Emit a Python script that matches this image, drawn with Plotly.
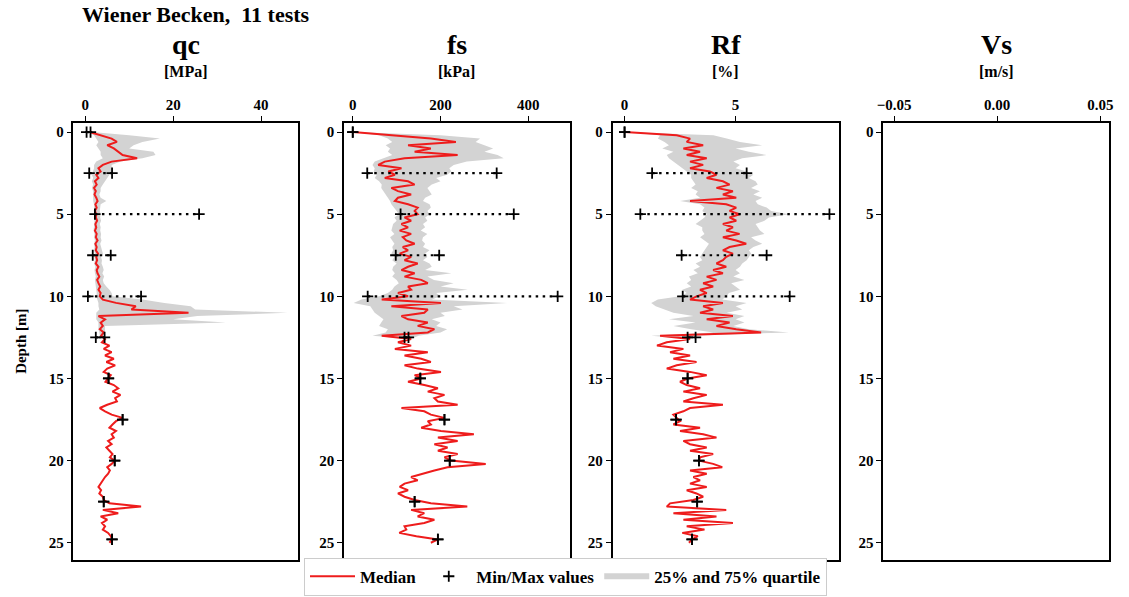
import numpy as np
import plotly.graph_objects as go

# ---------------- data ----------------
depth = np.round(np.arange(0, 25.001, 0.2), 1)          # 0 .. 25 m, 0.2 m step
depth_q = depth[:64]                                     # 0 .. 12.6 m, where quartiles exist

qc_median = [
    1.0, 3.5, 6.0, 7.2, 5.0, 6.5, 7.5, 8.5, 11.8, 6.0,
    4.0, 3.0, 3.5, 2.5, 3.0, 2.2, 2.6, 2.0, 2.4, 2.1,
    2.5, 2.8, 2.3, 2.6, 2.2, 2.5, 2.4, 2.7, 2.3, 2.5,
    2.2, 2.6, 2.4, 2.8, 2.3, 2.6, 2.4, 2.9, 2.5, 2.7,
    2.4, 3.0, 2.6, 2.8, 3.2, 2.7, 3.0, 3.4, 3.0, 3.5,
    3.3, 4.0, 7.0, 11.5, 10.5, 23.5, 3.0, 4.5, 3.5, 4.0,
    3.3, 4.2, 3.6, 4.5, 3.8, 5.5, 4.2, 6.0, 4.5, 6.5,
    4.8, 6.8, 5.0, 4.2, 5.8, 5.3, 4.6, 6.5, 7.5, 6.2,
    8.0, 6.8, 7.2, 5.0, 3.3, 4.5, 6.0, 8.5, 7.0, 6.2,
    5.5, 7.0, 6.0, 6.5, 5.2, 6.0, 4.8, 5.5, 6.2, 5.6,
    6.7, 6.0, 5.0, 5.6, 5.2, 4.5, 4.0, 3.4, 3.0, 3.6,
    3.2, 4.0, 4.2, 5.5, 12.7, 4.0, 7.5, 3.5, 5.0, 3.8,
    4.5, 4.0, 5.2, 5.8, 6.1, 5.5,
]
qc_q25 = [
    0.5, 2.0, 2.5, 3.0, 2.5, 3.0, 3.5, 3.5, 4.0, 2.5,
    2.0, 2.0, 1.8, 1.5, 1.8, 1.5, 1.8, 1.5, 1.8, 1.8,
    1.8, 1.8, 2.0, 2.0, 1.9, 2.0, 2.0, 2.1, 2.0, 2.0,
    1.9, 2.1, 2.0, 2.2, 2.0, 2.1, 2.0, 2.2, 2.1, 2.2,
    2.0, 2.3, 2.1, 2.2, 2.4, 2.2, 2.3, 2.4, 2.5, 2.6,
    2.5, 2.8, 3.0, 3.0, 3.2, 2.5, 2.5, 2.5, 3.0, 3.0,
    3.0, 3.2, 3.3, 4.5,
]
qc_q75 = [
    1.5, 10.0, 17.0, 13.0, 11.0, 10.0, 15.5, 16.0, 13.0, 8.0,
    6.0, 6.0, 6.3, 5.5, 5.0, 4.5, 4.0, 3.5, 3.5, 3.2,
    3.5, 4.8, 3.5, 3.4, 3.3, 3.5, 3.4, 3.6, 3.3, 3.5,
    3.4, 3.6, 3.5, 3.7, 3.4, 3.6, 3.8, 4.0, 3.6, 3.8,
    3.7, 4.0, 4.2, 3.9, 4.3, 4.0, 4.2, 4.8, 5.5, 6.0,
    6.2, 13.0, 18.0, 24.0, 25.0, 46.0, 25.5, 20.0, 32.0, 4.5,
    4.5, 4.5, 4.0, 4.5,
]

fs_median = [
    0, 88, 178, 235, 126, 178, 141, 239, 118, 73,
    58, 111, 81, 96, 73, 126, 141, 88, 103, 133,
    103, 96, 126, 148, 141, 148, 118, 133, 111, 126,
    107, 133, 114, 122, 141, 114, 126, 107, 133, 118,
    148, 126, 111, 141, 118, 156, 171, 126, 133, 103,
    126, 66, 201, 88, 171, 163, 111, 126, 171, 148,
    186, 171, 66, 133, 103, 133, 96, 171, 118, 156,
    178, 118, 148, 201, 141, 156, 126, 163, 194, 171,
    209, 186, 194, 239, 111, 163, 178, 209, 171, 178,
    156, 201, 276, 194, 239, 186, 216, 194, 239, 209,
    224, 303, 216, 186, 156, 133, 148, 118, 107, 126,
    103, 118, 141, 178, 261, 133, 163, 148, 186, 163,
    118, 122, 106, 145, 194, 178,
]
fs_q25 = [
    0, 60, 80, 90, 75, 85, 80, 90, 70, 50,
    45, 50, 48, 55, 50, 60, 66, 65, 70, 75,
    80, 85, 88, 95, 100, 105, 95, 100, 92, 90,
    88, 95, 85, 90, 95, 90, 92, 88, 95, 90,
    100, 92, 90, 96, 90, 100, 105, 95, 90, 80,
    60, 20, 2, 40, 45, 50, 60, 70, 65, 60,
    80, 75, 45, 133,
]
fs_q75 = [
    0, 200, 290, 280, 300, 320, 300, 330, 344, 260,
    230, 220, 225, 215, 190, 200, 180, 170, 175, 180,
    165, 160, 175, 178, 170, 175, 165, 170, 160, 165,
    155, 170, 160, 158, 165, 160, 175, 165, 170, 160,
    175, 180, 165, 225, 170, 185, 230, 200, 262, 190,
    200, 180, 352, 230, 250, 200, 210, 180, 200, 190,
    215, 200, 150, 133,
]

rf_median = [
    0.0, 2.35, 2.95, 2.8, 3.54, 2.65, 3.4, 2.8, 3.7, 2.95,
    3.54, 2.95, 3.84, 4.14, 3.7, 4.43, 4.73, 4.14, 4.88, 4.43,
    5.03, 2.95, 4.58, 5.03, 4.73, 5.18, 4.73, 5.03, 4.43, 4.88,
    4.58, 5.18, 4.43, 5.03, 5.48, 4.73, 4.43, 4.88, 4.58, 4.43,
    4.14, 4.58, 3.99, 4.43, 3.7, 4.14, 3.54, 3.99, 3.4, 3.7,
    3.24, 2.95, 4.43, 3.54, 3.99, 3.4, 4.88, 3.7, 4.73, 4.14,
    5.03, 6.15, 1.6, 2.95, 1.9, 1.46, 2.65, 2.05, 2.95, 2.2,
    3.24, 2.35, 1.9, 2.95, 3.7, 2.84, 2.5, 2.8, 3.4, 2.65,
    3.7, 3.1, 2.65, 4.43, 2.95, 2.65, 2.2, 2.35, 2.5, 2.2,
    3.4, 2.5, 3.54, 4.14, 2.65, 2.95, 3.7, 2.95, 3.99, 3.4,
    3.35, 3.99, 4.4, 2.95, 3.7, 3.1, 3.4, 2.95, 3.7, 2.8,
    3.24, 3.54, 3.1, 2.05, 1.9, 4.58, 2.2, 4.14, 2.65, 4.88,
    2.8, 3.6, 2.6, 3.3, 3.04, 2.9,
]
rf_q25 = [
    0.0, 1.6, 1.5, 1.8, 2.0, 1.7, 2.2, 1.9, 2.0, 2.2,
    2.4, 2.6, 2.8, 3.0, 3.0, 3.1, 3.2, 3.0, 3.3, 3.2,
    3.4, 2.5, 3.4, 3.6, 3.5, 3.7, 3.6, 3.4, 3.2, 3.5,
    3.5, 3.6, 3.4, 3.6, 3.8, 3.7, 3.6, 3.5, 3.4, 3.5,
    3.2, 3.4, 3.1, 3.3, 2.9, 3.0, 2.8, 3.0, 2.6, 2.8,
    2.5, 1.5, 1.2, 1.4, 1.8, 2.2, 3.1, 2.0, 3.2, 2.2,
    3.0, 4.0, 1.2, 2.95,
]
rf_q75 = [
    0.0, 4.0, 4.6, 5.2, 6.2, 5.0, 5.6, 6.4, 5.3, 4.9,
    5.2, 5.0, 5.5, 5.8, 5.6, 5.9, 6.0, 5.7, 6.1, 5.8,
    6.2, 5.9, 6.0, 6.4, 6.6, 7.4, 6.5, 6.3, 5.9, 6.0,
    6.1, 6.3, 5.7, 5.9, 6.2, 5.8, 5.6, 5.7, 5.6, 5.5,
    5.3, 5.2, 5.0, 5.2, 4.9, 5.4, 4.8, 5.0, 5.2, 4.7,
    4.6, 4.4, 5.5, 5.0, 5.3, 4.6, 5.4, 5.0, 5.4, 4.9,
    5.6, 7.4, 3.0, 2.95,
]

# min / max of all tests at selected depths
mm_depth = [0.0, 2.5, 5.0, 7.5, 10.0, 12.5, 15.0, 17.5, 20.0, 22.5, 24.8]
qc_min = [0.3, 0.9, 2.2, 1.7, 0.6, 2.4, 5.3, 8.5, 6.7, 4.2, 6.1]
qc_max = [1.2, 6.1, 25.9, 5.8, 12.7, 4.4, 5.3, 8.5, 6.7, 4.2, 6.1]
fs_min = [0, 33, 109, 98, 34, 118, 154, 209, 221, 141, 194]
fs_max = [0, 328, 367, 197, 467, 127, 154, 209, 221, 141, 194]
rf_min = [0.0, 1.24, 0.71, 2.57, 2.62, 2.84, 2.84, 2.32, 3.35, 3.27, 3.04]
rf_max = [0.0, 5.5, 9.23, 6.4, 7.44, 3.2, 2.84, 2.32, 3.35, 3.27, 3.04]

panel_titles = ["qc", "fs", "Rf", "Vs"]
panel_units = ["[MPa]", "[kPa]", "[%]", "[m/s]"]
x_ranges = [[-2.7, 48.5], [-20, 495], [-0.54, 9.64], [-0.0553, 0.0543]]
x_ticks = [[0, 20, 40], [0, 200, 400], [0, 5], [-0.05, 0.0, 0.05]]
x_ticktext = [["0", "20", "40"], ["0", "200", "400"], ["0", "5"], ["\u22120.05", "0.00", "0.05"]]
depth_ticks = [0, 5, 10, 15, 20, 25]

# ---------------- styling ----------------
FONT = "Liberation Serif"
RED = "#ee1c1c"
GREY = "#d3d3d3"
W, H = 1129, 597
x_domains = [[68 / W, 295 / W], [341 / W, 569 / W], [612 / W, 840 / W], [885 / W, 1113 / W]]
y_domain = [1 - 560 / H, 1 - 123 / H]

fig = go.Figure()

profiles = [
    (qc_median, qc_q25, qc_q75, qc_min, qc_max),
    (fs_median, fs_q25, fs_q75, fs_min, fs_max),
    (rf_median, rf_q25, rf_q75, rf_min, rf_max),
]

for i, (med, q25, q75, vmin, vmax) in enumerate(profiles):
    xa = "x" if i == 0 else f"x{i + 1}"
    ya = "y" if i == 0 else f"y{i + 1}"
    first = i == 0
    # quartile band
    fig.add_trace(go.Scatter(x=q25, y=depth_q, mode="lines", line=dict(width=0, color=GREY),
                             xaxis=xa, yaxis=ya, showlegend=False, hoverinfo="skip"))
    fig.add_trace(go.Scatter(x=q75, y=depth_q, mode="none", fill="tonextx", fillcolor=GREY,
                             xaxis=xa, yaxis=ya, name="25% and 75% quartile",
                             showlegend=first, legendrank=3, hoverinfo="skip"))
    # median profile
    fig.add_trace(go.Scatter(x=med, y=depth, mode="lines", line=dict(color=RED, width=2),
                             xaxis=xa, yaxis=ya, name="Median", showlegend=first, legendrank=1))
    # dotted min-max connectors
    lx, ly = [], []
    for d, a, b in zip(mm_depth, vmin, vmax):
        lx += [a, b, None]
        ly += [d, d, None]
    fig.add_trace(go.Scatter(x=lx, y=ly, mode="lines",
                             line=dict(color="black", width=2.2, dash="2.5px,4.5px"),
                             xaxis=xa, yaxis=ya, showlegend=False, hoverinfo="skip"))
    # min / max markers
    fig.add_trace(go.Scatter(x=list(vmin) + list(vmax), y=mm_depth + mm_depth, mode="markers",
                             marker=dict(symbol="cross-thin", size=8, line=dict(color="black", width=1.8)),
                             xaxis=xa, yaxis=ya, name="Min/Max values",
                             showlegend=first, legendrank=2))

# empty Vs panel
fig.add_trace(go.Scatter(x=[None], y=[None], xaxis="x4", yaxis="y4", showlegend=False))

tickfont = dict(family=FONT, size=15, color="black", weight="bold")
axis_common = dict(showline=True, linecolor="black", linewidth=1.5, mirror=True,
                   ticks="outside", ticklen=5, tickwidth=1.3, tickcolor="black",
                   showgrid=False, zeroline=False, tickfont=tickfont)

layout = dict(width=W, height=H, margin=dict(l=0, r=0, t=0, b=0),
              plot_bgcolor="white", paper_bgcolor="white",
              font=dict(family=FONT, color="black"))

for i in range(4):
    sx = "" if i == 0 else str(i + 1)
    layout[f"xaxis{sx}"] = dict(domain=x_domains[i], range=x_ranges[i], side="top",
                                anchor=f"y{sx}", tickmode="array", tickvals=x_ticks[i],
                                ticktext=x_ticktext[i], **axis_common)
    layout[f"yaxis{sx}"] = dict(domain=y_domain, range=[26.05, -0.55], anchor=f"x{sx}",
                                tickmode="array", tickvals=depth_ticks, **axis_common)

layout["legend"] = dict(orientation="h", x=0.5, xanchor="center", y=0.034, yanchor="middle",
                        traceorder="normal",
                        bgcolor="white", bordercolor="#cccccc", borderwidth=1,
                        font=dict(family=FONT, size=17, color="black", weight="bold"),
                        itemwidth=45, tracegroupgap=0)

fig.update_layout(**layout)

annotations = []
for i in range(4):
    cx = (x_domains[i][0] + x_domains[i][1]) / 2
    annotations.append(dict(text=panel_titles[i], x=cx, y=1 - 45 / H, xref="paper", yref="paper",
                            showarrow=False, xanchor="center", yanchor="middle",
                            font=dict(family=FONT, size=28, color="black", weight="bold")))
    annotations.append(dict(text=panel_units[i], x=cx, y=1 - 72 / H, xref="paper", yref="paper",
                            showarrow=False, xanchor="center", yanchor="middle",
                            font=dict(family=FONT, size=16, color="black", weight="bold")))
annotations.append(dict(text="Wiener Becken,  11 tests", x=192 / W, y=1 - 15 / H,
                        xref="paper", yref="paper", showarrow=False, xanchor="center",
                        yanchor="middle",
                        font=dict(family=FONT, size=22, color="black", weight="bold")))
annotations.append(dict(text="Depth [m]", x=15 / W, y=1 - 341 / H, xref="paper", yref="paper",
                        showarrow=False, textangle=-90, xanchor="center", yanchor="middle",
                        font=dict(family=FONT, size=15, color="black", weight="bold")))
fig.update_layout(annotations=annotations)

fig.write_html("out.html")
